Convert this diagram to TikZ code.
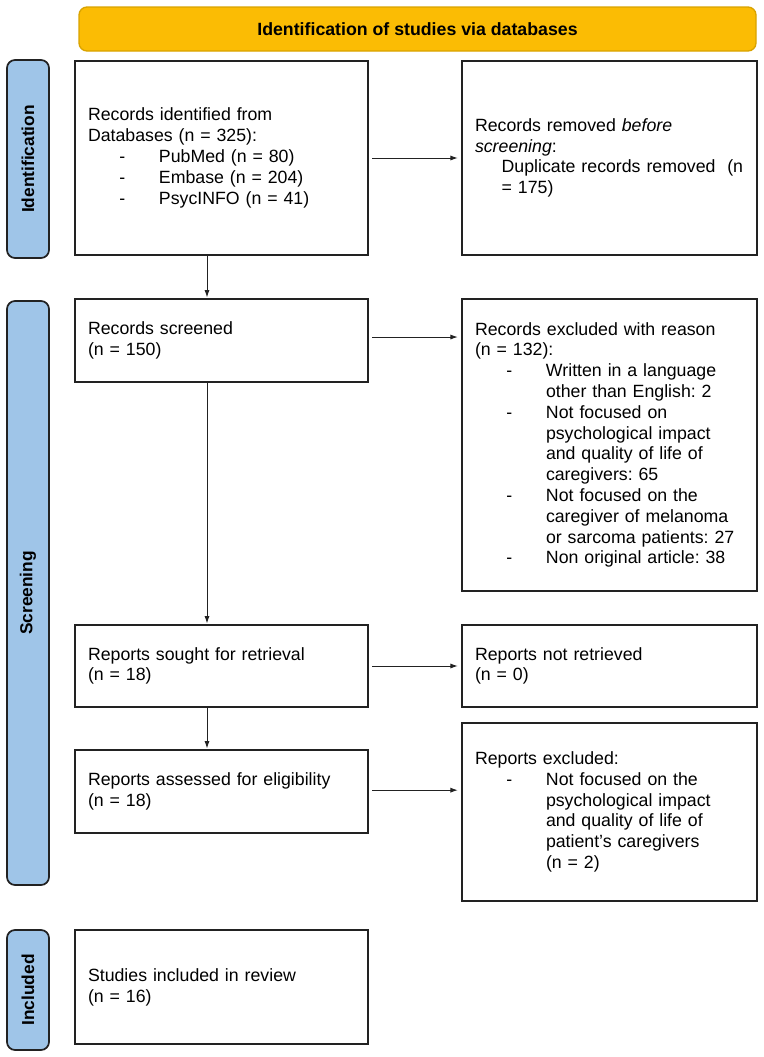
\documentclass[tikz,border=0pt]{standalone}
\usepackage{fontspec}
\setmainfont{Liberation Sans}
\usetikzlibrary{arrows.meta,positioning,calc}
\usepackage{xcolor}
\definecolor{bannergold}{HTML}{FBBC04}
\definecolor{bannerline}{HTML}{D9A300}
\definecolor{phaseblue}{HTML}{9FC5E8}
\definecolor{dark}{HTML}{222222}
\frenchspacing
\newcommand{\dashitem}[1]{\hspace*{23.5pt}\makebox[29.75pt][l]{-}#1}
\newcommand{\hangline}[1]{\hspace*{53.25pt}#1}
\tikzset{
  box/.style={draw=dark, line width=1.3pt, align=left, fill=white, inner xsep=9.75pt, inner ysep=0pt, font=\fontsize{13.3}{15.6}\selectfont},
  leftbox/.style={box, text width=200.25pt},
  rightbox/.style={box, text width=201.75pt},
  phase/.style={draw=dark, line width=1.3pt, fill=phaseblue, rounded corners=6pt, rotate=90, minimum height=31.5pt, inner sep=0pt, font=\bfseries\fontsize{13}{15}\selectfont},
  banner/.style={draw=bannerline, line width=1pt, fill=bannergold, rounded corners=6pt, minimum width=507.75pt, minimum height=33pt, font=\bfseries\fontsize{13.3}{15}\selectfont},
  arrow/.style={-{Latex[length=5.5pt,width=3.8pt]}, line width=0.75pt, draw=dark}
}

\begin{document}
\begin{tikzpicture}[x=0.75pt, y=-0.75pt]
  \useasboundingbox (0,0) rectangle (764,1057);

  % header and phase labels
  \node[banner] (head) at (417.5,29) {Identification of studies via databases};
  \node[phase, minimum width=148.5pt] (identbar) at (28,159) {Identification};
  \node[phase, minimum width=438pt] (screenbar) at (28,593) {Screening};
  \node[phase, minimum width=90pt] (inclbar) at (28,990) {Included};

  % left column
  \node[leftbox, minimum height=145.5pt] (ident) at (221.5,158) {Records identified from\\
    Databases (n = 325):\\
    \dashitem{PubMed (n = 80)}\\
    \dashitem{Embase (n = 204)}\\
    \dashitem{PsycINFO (n = 41)}};
  \node[leftbox, minimum height=62.25pt] (screened) at (221.5,340.5) {Records screened\\(n = 150)};
  \node[leftbox, minimum height=61.5pt] (sought) at (221.5,666) {Reports sought for retrieval\\(n = 18)};
  \node[leftbox, minimum height=62.25pt] (assessed) at (221.5,791.5) {Reports assessed for eligibility\\(n = 18)};
  \node[leftbox, minimum height=85.5pt] (included) at (221.5,987) {Studies included in review\\(n = 16)};

  % right column
  \node[rightbox, minimum height=145.5pt] (removed) at (609.5,158) {Records removed \textit{before}\\
    \textit{screening}:\\
    \hspace*{20pt}Duplicate records removed\ \ (n\\
    \hspace*{20pt}= 175)};
  \node[rightbox, minimum height=219pt] (excluded) at (609.5,445) {Records excluded with reason\\
    (n = 132):\\
    \dashitem{Written in a language}\\
    \hangline{other than English: 2}\\
    \dashitem{Not focused on}\\
    \hangline{psychological impact}\\
    \hangline{and quality of life of}\\
    \hangline{caregivers: 65}\\
    \dashitem{Not focused on the}\\
    \hangline{caregiver of melanoma}\\
    \hangline{or sarcoma patients: 27}\\
    \dashitem{Non original article: 38}};
  \node[rightbox, minimum height=61.5pt] (notret) at (609.5,666) {Reports not retrieved\\(n = 0)};
  \node[rightbox, minimum height=133.5pt] (repexcl) at (609.5,812) {Reports excluded:\\
    \dashitem{Not focused on the}\\
    \hangline{psychological impact}\\
    \hangline{and quality of life of}\\
    \hangline{patient’s caregivers}\\
    \hangline{(n = 2)}};

  % downward flow
  \coordinate (spine) at (207,0);
  \draw[arrow, shorten >=0.5pt] (ident.south -| spine) -- (screened.north -| spine);
  \draw[arrow, shorten >=0.5pt] (screened.south -| spine) -- (sought.north -| spine);
  \draw[arrow, shorten >=0.5pt] (sought.south -| spine) -- (assessed.north -| spine);

  % side exits
  \draw[arrow, shorten <=2.5pt, shorten >=2.5pt] (ident.east) -- (removed.west);
  \draw[arrow, shorten <=2.5pt, shorten >=2.5pt] ([yshift=2.6pt]screened.east) -- ([yshift=2.6pt]screened.east -| excluded.west);
  \draw[arrow, shorten <=2.5pt, shorten >=2.5pt] (sought.east) -- (notret.west);
  \draw[arrow, shorten <=2.5pt, shorten >=2.5pt] ([yshift=1pt]assessed.east) -- ([yshift=1pt]assessed.east -| repexcl.west);
\end{tikzpicture}
\end{document}
